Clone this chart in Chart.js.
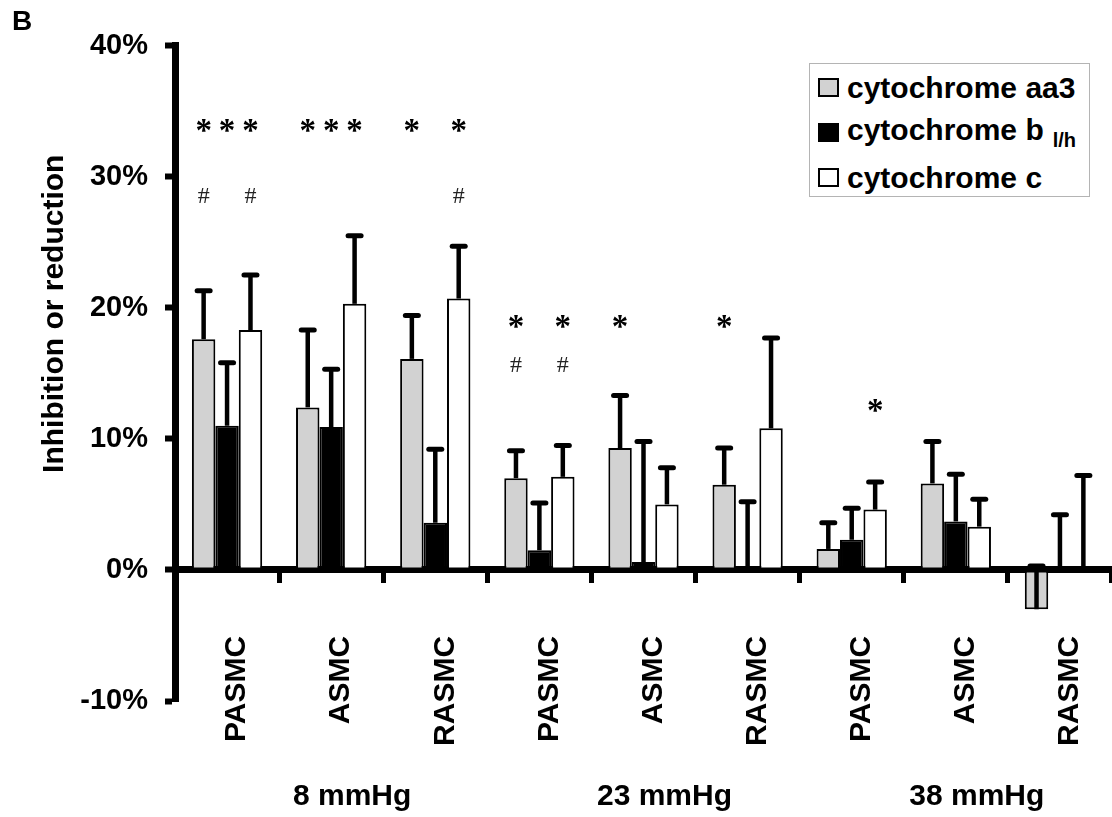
<!DOCTYPE html>
<html>
<head>
<meta charset="utf-8">
<title>Cytochrome inhibition</title>
<script src="https://cdn.jsdelivr.net/npm/chart.js@4.4.1/dist/chart.umd.min.js"></script>
<style>
  body { margin: 0; background: #fff; }
  #wrap { position: relative; width: 1112px; height: 817px; }
  #legend {
    position: absolute; left: 809px; top: 63px; width: 279px; height: 132px;
    border: 1px solid #b4b4b4; background: #fff;
    font: bold 30px 'Liberation Sans', Arial, sans-serif; color: #000;
  }
  #legend .row { display: flex; align-items: center; height: 45px; padding-left: 8px; }
  #legend .row:first-child { margin-top: 1px; }
  #legend .swatch { width: 17px; height: 15px; border: 2px solid #000; margin-right: 8px; }
  #legend sub { font-size: 20px; vertical-align: -7px; margin-left: 9px; }
</style>
</head>
<body>
<div id="wrap">
  <canvas id="cyt-chart" width="1112" height="817"></canvas>
  <div id="legend"></div>
</div>
<script>
const FONT = "'Liberation Sans', Arial, sans-serif";
const MARK_FONT = "'Liberation Serif', 'Times New Roman', serif";

const CATEGORIES = ['PASMC', 'ASMC', 'RASMC', 'PASMC', 'ASMC', 'RASMC', 'PASMC', 'ASMC', 'RASMC'];
const PRESSURES = ['8 mmHg', '23 mmHg', '38 mmHg'];

const SERIES_NAMES = ['cytochrome aa3', 'cytochrome b', 'cytochrome c'];
const SERIES_SUBSCRIPTS = ['', 'l/h', ''];

// mean values and SEM (%)
const aa3Values = [17.6, 12.4, 16.1, 7.0, 9.3, 6.5, 1.6, 6.6, -3.0];
const aa3Errors = [3.7, 5.9, 3.3, 2.1, 4.0, 2.8, 2.0, 3.2, 3.3];
const bValues = [11.0, 10.9, 3.6, 1.5, 0.6, 0, 2.3, 3.7, 0];
const bErrors = [4.8, 4.4, 5.6, 3.6, 9.2, 5.2, 2.4, 3.6, 4.2];
const cValues = [18.3, 20.3, 20.7, 7.1, 5.0, 10.8, 4.6, 3.3, 0.2];
const cErrors = [4.2, 5.2, 4.0, 2.4, 2.8, 6.9, 2.1, 2.1, 7.0];

// significance marks: * and # per bar
const aa3Marks = ['*#', '*', '*', '*#', '*', '*', '', '', ''];
const bMarks = ['*', '*', '', '', '', '', '', '', ''];
const cMarks = ['*#', '*', '*#', '*#', '', '', '*', '', ''];

// height (%) of the * row and the # row for each pressure
const STAR_LEVELS = [33.8, 18.9, 12.5];
const HASH_LEVELS = [28.5, 15.6, 0];

const Y_MIN = -10;
const Y_MAX = 40;
const Y_STEP = 10;

const COLORS = {
  gray: 'rgb(210, 210, 210)',
  black: '#000',
  white: '#fff',
};

const errorBarPlugin = {
  id: 'errorBars',
  afterDatasetsDraw(chart) {
    const { ctx } = chart;
    const yScale = chart.scales.y;
    ctx.save();
    ctx.strokeStyle = '#000';
    chart.data.datasets.forEach((ds, di) => {
      const meta = chart.getDatasetMeta(di);
      meta.data.forEach((bar, i) => {
        const from = yScale.getPixelForValue(ds.data[i]);
        const to = yScale.getPixelForValue(ds.data[i] + ds.errors[i]);
        ctx.lineWidth = 4.5;
        ctx.lineCap = 'butt';
        ctx.beginPath();
        ctx.moveTo(bar.x, from);
        ctx.lineTo(bar.x, to);
        ctx.stroke();
        ctx.lineWidth = 5;
        ctx.lineCap = 'round';
        ctx.beginPath();
        ctx.moveTo(bar.x - 6.5, to);
        ctx.lineTo(bar.x + 6.5, to);
        ctx.stroke();
      });
    });
    ctx.restore();
  },
};

const significancePlugin = {
  id: 'significance',
  afterDatasetsDraw(chart) {
    const { ctx } = chart;
    const yScale = chart.scales.y;
    ctx.save();
    ctx.textAlign = 'center';
    ctx.textBaseline = 'middle';
    chart.data.datasets.forEach((ds, di) => {
      const meta = chart.getDatasetMeta(di);
      meta.data.forEach((bar, i) => {
        const marks = ds.marks[i];
        const group = Math.floor(i / 3);
        if (marks.includes('*')) {
          ctx.fillStyle = '#000';
          ctx.font = 'bold 33px ' + MARK_FONT;
          ctx.fillText('*', bar.x, yScale.getPixelForValue(STAR_LEVELS[group]) + 6);
        }
        if (marks.includes('#')) {
          ctx.fillStyle = '#222';
          ctx.font = '24px ' + MARK_FONT;
          ctx.fillText('#', bar.x, yScale.getPixelForValue(HASH_LEVELS[group]));
        }
      });
    });
    ctx.restore();
  },
};

// axis title sits centred on the positive part of the y range
const yTitlePlugin = {
  id: 'yTitle',
  afterDraw(chart) {
    const { ctx } = chart;
    const yScale = chart.scales.y;
    ctx.save();
    ctx.translate(yScale.left + 43, yScale.getPixelForValue((0 + Y_MAX) / 2) + 6);
    ctx.rotate(-Math.PI / 2);
    ctx.textAlign = 'center';
    ctx.textBaseline = 'middle';
    ctx.fillStyle = '#000';
    ctx.font = 'bold 30px ' + FONT;
    ctx.fillText('Inhibition or reduction', 0, 0);
    ctx.restore();
  },
};

function noSidePadding(scale) {
  scale.paddingLeft = 0;
  scale.paddingRight = 0;
}

function makeDataset(index, values, errors, marks, color) {
  return {
    label: SERIES_NAMES[index],
    data: values,
    errors: errors,
    marks: marks,
    backgroundColor: color,
    borderColor: '#000',
    borderWidth: 2,
    borderSkipped: false,
    categoryPercentage: 0.675,
    barPercentage: 1,
  };
}

function buildLegend(chart) {
  const legend = document.getElementById('legend');
  legend.innerHTML = '';
  chart.data.datasets.forEach((ds, i) => {
    const row = document.createElement('div');
    row.className = 'row';
    const swatch = document.createElement('span');
    swatch.className = 'swatch';
    swatch.style.background = ds.backgroundColor;
    const text = document.createElement('span');
    text.textContent = ds.label;
    if (SERIES_SUBSCRIPTS[i]) {
      const sub = document.createElement('sub');
      sub.textContent = SERIES_SUBSCRIPTS[i];
      text.appendChild(sub);
    }
    row.appendChild(swatch);
    row.appendChild(text);
    legend.appendChild(row);
  });
}

function createChart() {
  const ctx = document.getElementById('cyt-chart').getContext('2d');
  const axisFont = { family: FONT, size: 30, weight: 'bold' };

  const chart = new Chart(ctx, {
    type: 'bar',
    data: {
      labels: CATEGORIES,
      datasets: [
        makeDataset(0, aa3Values, aa3Errors, aa3Marks, COLORS.gray),
        makeDataset(1, bValues, bErrors, bMarks, COLORS.black),
        makeDataset(2, cValues, cErrors, cMarks, COLORS.white),
      ],
    },
    options: {
      responsive: false,
      animation: false,
      layout: { padding: { left: 12, right: 0, top: 0, bottom: 0 } },
      plugins: {
        legend: { display: false },
        tooltip: { enabled: false },
        title: {
          display: true,
          text: 'B',
          align: 'start',
          color: '#000',
          font: { family: FONT, size: 28, weight: 'bold' },
          padding: { top: 5, bottom: 7 },
        },
      },
      scales: {
        x: {
          type: 'category',
          position: { y: 0 },
          offset: true,
          z: 1,
          grid: {
            drawOnChartArea: false,
            offset: true,
            color: '#000',
            tickLength: 10,
            tickWidth: 5,
          },
          border: { color: '#000', width: 7 },
          ticks: {
            color: '#000',
            font: axisFont,
            minRotation: 90,
            maxRotation: 90,
            autoSkip: false,
            padding: 56,
            labelOffset: 10,
          },
          afterFit: noSidePadding,
        },
        x2: {
          type: 'category',
          labels: PRESSURES,
          position: 'bottom',
          offset: true,
          grid: { display: false, drawTicks: false },
          border: { display: false },
          ticks: { color: '#000', font: axisFont, padding: 78, labelOffset: 21 },
          afterFit: (scale) => {
            noSidePadding(scale);
            scale.height = 116;
          },
        },
        y: {
          min: Y_MIN,
          max: Y_MAX,
          grid: {
            drawOnChartArea: false,
            color: '#000',
            tickLength: 10,
            tickWidth: 6,
          },
          border: { color: '#000', width: 7 },
          ticks: {
            stepSize: Y_STEP,
            color: '#000',
            font: { family: FONT, size: 29, weight: 'bold' },
            padding: 17,
            callback: (v) => v + '%',
          },
          afterFit: (scale) => { scale.width = 163; },
        },
      },
    },
    plugins: [errorBarPlugin, significancePlugin, yTitlePlugin],
  });

  buildLegend(chart);
}

createChart();
</script>
</body>
</html>
